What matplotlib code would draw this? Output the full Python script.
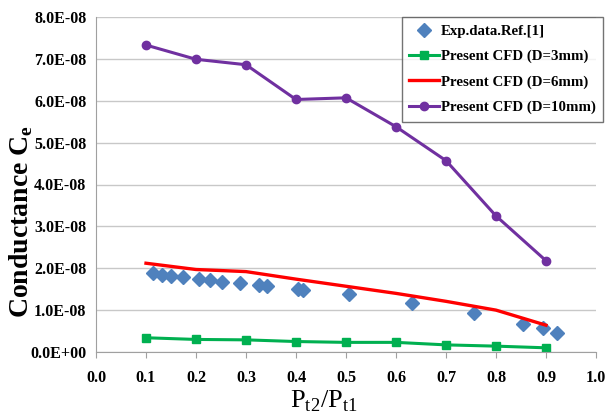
import numpy as np
import matplotlib.pyplot as plt
from matplotlib.ticker import FuncFormatter, MultipleLocator

plt.rcParams['font.family'] = 'Liberation Serif'
plt.rcParams['mathtext.fontset'] = 'custom'
plt.rcParams['mathtext.rm'] = 'Liberation Serif'
plt.rcParams['mathtext.bf'] = 'Liberation Serif:bold'

# experimental points (pressure ratio, conductance)
exp_x = [0.113, 0.131, 0.149, 0.173, 0.206, 0.227, 0.252, 0.287, 0.325, 0.341,
         0.404, 0.413, 0.506, 0.632, 0.755, 0.853, 0.894, 0.921]
exp_y = [1.88e-8, 1.84e-8, 1.81e-8, 1.80e-8, 1.74e-8, 1.72e-8, 1.68e-8, 1.65e-8, 1.61e-8, 1.58e-8,
         1.50e-8, 1.48e-8, 1.38e-8, 1.16e-8, 0.92e-8, 0.68e-8, 0.57e-8, 0.45e-8]

# CFD results
cfd_x = [0.1, 0.2, 0.3, 0.4, 0.5, 0.6, 0.7, 0.8, 0.9]
cfd_3mm = [0.34e-8, 0.30e-8, 0.29e-8, 0.25e-8, 0.23e-8, 0.23e-8, 0.17e-8, 0.14e-8, 0.10e-8]
cfd_6mm = [2.12e-8, 1.97e-8, 1.92e-8, 1.74e-8, 1.57e-8, 1.40e-8, 1.21e-8, 1.00e-8, 0.64e-8]
cfd_10mm = [7.33e-8, 6.99e-8, 6.86e-8, 6.03e-8, 6.07e-8, 5.38e-8, 4.57e-8, 3.25e-8, 2.18e-8]

fig = plt.figure(figsize=(6.07, 4.16), dpi=100)
ax = fig.add_axes([96/607, 1-352/416, 500/607, 335/416])

ax.plot(exp_x, exp_y, 'D', color='#4F81BD', markersize=7, linestyle='none', label='Exp.data.Ref.[1]')
ax.plot(cfd_x, cfd_3mm, '-s', color='#00B050', lw=2.2, markersize=6, label='Present CFD (D=3mm)')
ax.plot(cfd_x, cfd_6mm, '-', color='#FF0000', lw=2.4, label='Present CFD (D=6mm)')
ax.plot(cfd_x, cfd_10mm, '-o', color='#7030A0', lw=2.2, markersize=6, label='Present CFD (D=10mm)')

ax.set_xlim(0, 1.0)
ax.set_ylim(0, 8e-8)
ax.xaxis.set_major_locator(MultipleLocator(0.1))
ax.yaxis.set_major_locator(MultipleLocator(1e-8))
ax.xaxis.set_major_formatter(FuncFormatter(lambda v, p: f'{v:.1f}'))
ax.yaxis.set_major_formatter(FuncFormatter(lambda v, p: f'{v:.1E}'))

ax.grid(axis='y', color='#C8C8C8', lw=1)
ax.set_axisbelow(True)
for s in ['top', 'right']:
    ax.spines[s].set_visible(False)
for s in ['left', 'bottom']:
    ax.spines[s].set_color('#A0A0A0')
ax.tick_params(axis='x', length=4, color='#A0A0A0', pad=9)
ax.tick_params(axis='y', length=0, pad=7)
for t in ax.get_xticklabels() + ax.get_yticklabels():
    t.set_fontweight('bold')
    t.set_fontsize(11.5)

ax.set_xlabel(r'P$_{\mathrm{t2}}$/P$_{\mathrm{t1}}$', fontsize=19, va='center')
ax.xaxis.set_label_coords(0.456, -0.148)
ax.set_ylabel(r'Conductance C$_{\mathbf{e}}$', fontsize=20, fontweight='bold', va='center')
ax.yaxis.set_label_coords(-0.15, 0.39)

leg = ax.legend(loc='upper right', bbox_to_anchor=(1.014, 1.0), prop={'weight': 'bold', 'size': 10.7},
                frameon=True, fancybox=False, edgecolor='#505050', handlelength=2.0,
                handletextpad=0.1, borderpad=0.5, labelspacing=0.8, borderaxespad=0)
leg.get_frame().set_linewidth(1.0)

fig.savefig('out.png', dpi=100)
